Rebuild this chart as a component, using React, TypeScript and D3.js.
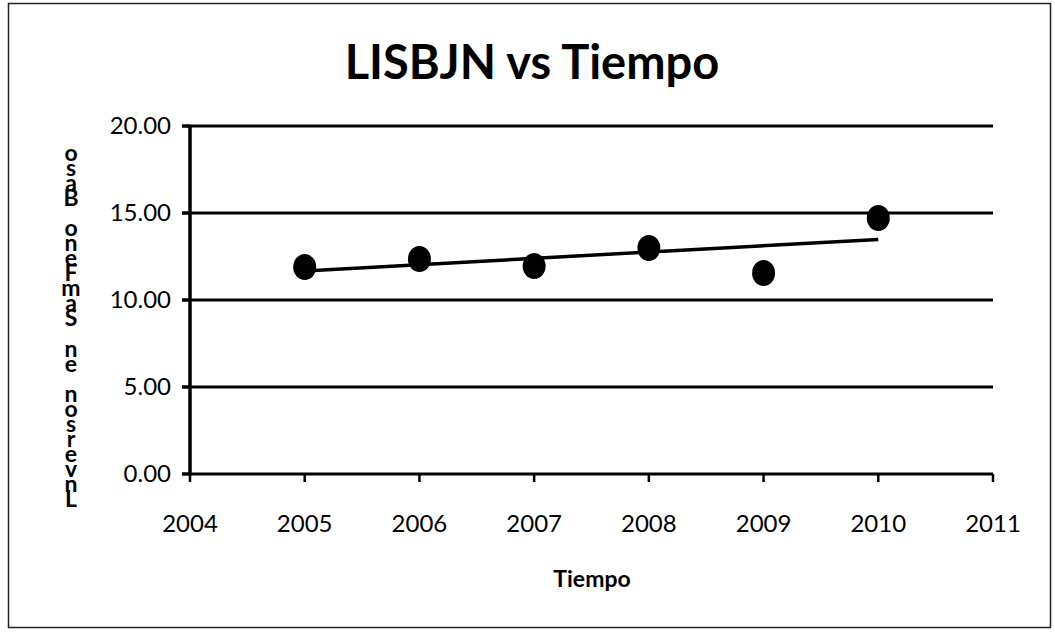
import * as d3 from 'd3'

const W = 1055, H = 634
const M = { top: 126, right: 62, bottom: 160, left: 190 }

const YEARS = [2005, 2006, 2007, 2008, 2009, 2010]
const VALUES = [11.9, 12.36, 11.95, 12.99, 11.55, 14.71]
const X_TICKS = [2004, 2005, 2006, 2007, 2008, 2009, 2010, 2011]
const Y_TICKS = [0, 5, 10, 15, 20]
const Y_LABEL = 'osaB oneFmaS ne nosrevnL'

const FONT = 'Lato, "Open Sans", sans-serif'

export default function App() {
  const iw = W - M.left - M.right
  const ih = H - M.top - M.bottom
  const x = d3.scaleLinear().domain([2004, 2011]).range([M.left, M.left + iw])
  const y = d3.scaleLinear().domain([0, 20]).range([M.top + ih, M.top])

  // linear trendline (least squares) over the data
  const mx = d3.mean(YEARS)!, my = d3.mean(VALUES)!
  const slope = d3.sum(YEARS, (t, i) => (t - mx) * (VALUES[i] - my)) / d3.sum(YEARS, t => (t - mx) ** 2)
  const fit = (t: number) => my + slope * (t - mx)
  const trend = d3.line<number>().x(t => x(t)).y(t => y(fit(t)))([YEARS[0], YEARS[YEARS.length - 1]])

  return (
    <div style={{ position: 'absolute', left: 0, top: 0 }}>
      <svg width={W} height={H} style={{ display: 'block', background: '#fff' }}>
        <rect x={8.5} y={3.5} width={1042} height={624} fill="none" stroke="#222" strokeWidth={1.5} />

        <text x={532} y={79} textAnchor="middle" fontFamily={FONT} fontWeight="bold" fontSize={47} fill="#000">
          LISBJN vs Tiempo
        </text>

        {/* gridlines */}
        {Y_TICKS.filter(v => v > 0).map(v => (
          <line key={v} x1={x(2004) - 8} x2={x(2011)} y1={y(v)} y2={y(v)} stroke="#000" strokeWidth={3} />
        ))}

        {/* y axis */}
        <line x1={x(2004)} x2={x(2004)} y1={y(20)} y2={y(0) + 2} stroke="#000" strokeWidth={3.5} />
        {Y_TICKS.map(v => (
          <g key={v}>
            <line x1={x(2004) - 8} x2={x(2004)} y1={y(v)} y2={y(v)} stroke="#000" strokeWidth={3} />
            <text x={171} y={y(v)} dy="0.35em" textAnchor="end" fontFamily={FONT} fontSize={24} fill="#000">
              {v.toFixed(2)}
            </text>
          </g>
        ))}

        {/* x axis */}
        <line x1={x(2004) - 8} x2={x(2011)} y1={y(0)} y2={y(0)} stroke="#000" strokeWidth={3} />
        {X_TICKS.map(t => (
          <g key={t}>
            <line x1={x(t)} x2={x(t)} y1={y(0)} y2={y(0) + 8} stroke="#000" strokeWidth={2.5} />
            <text x={x(t)} y={532} textAnchor="middle" fontFamily={FONT} fontSize={24} fill="#000">
              {t}
            </text>
          </g>
        ))}

        <text x={592} y={587} textAnchor="middle" fontFamily={FONT} fontWeight="bold" fontSize={23} fill="#000">
          Tiempo
        </text>

        {/* stacked y axis title */}
        <text x={71} y={138} fontFamily={FONT} fontWeight="bold" fontSize={23} fill="#000"
          textLength={374} lengthAdjust="spacing"
          style={{ writingMode: 'vertical-rl', textOrientation: 'upright' }}>
          {Y_LABEL}
        </text>

        {/* trendline */}
        <path d={trend ?? ''} fill="none" stroke="#000" strokeWidth={3.5} />

        {/* points */}
        {YEARS.map((t, i) => (
          <ellipse key={t} cx={x(t)} cy={y(VALUES[i])} rx={11.5} ry={13} fill="#000" />
        ))}
      </svg>
    </div>
  )
}
